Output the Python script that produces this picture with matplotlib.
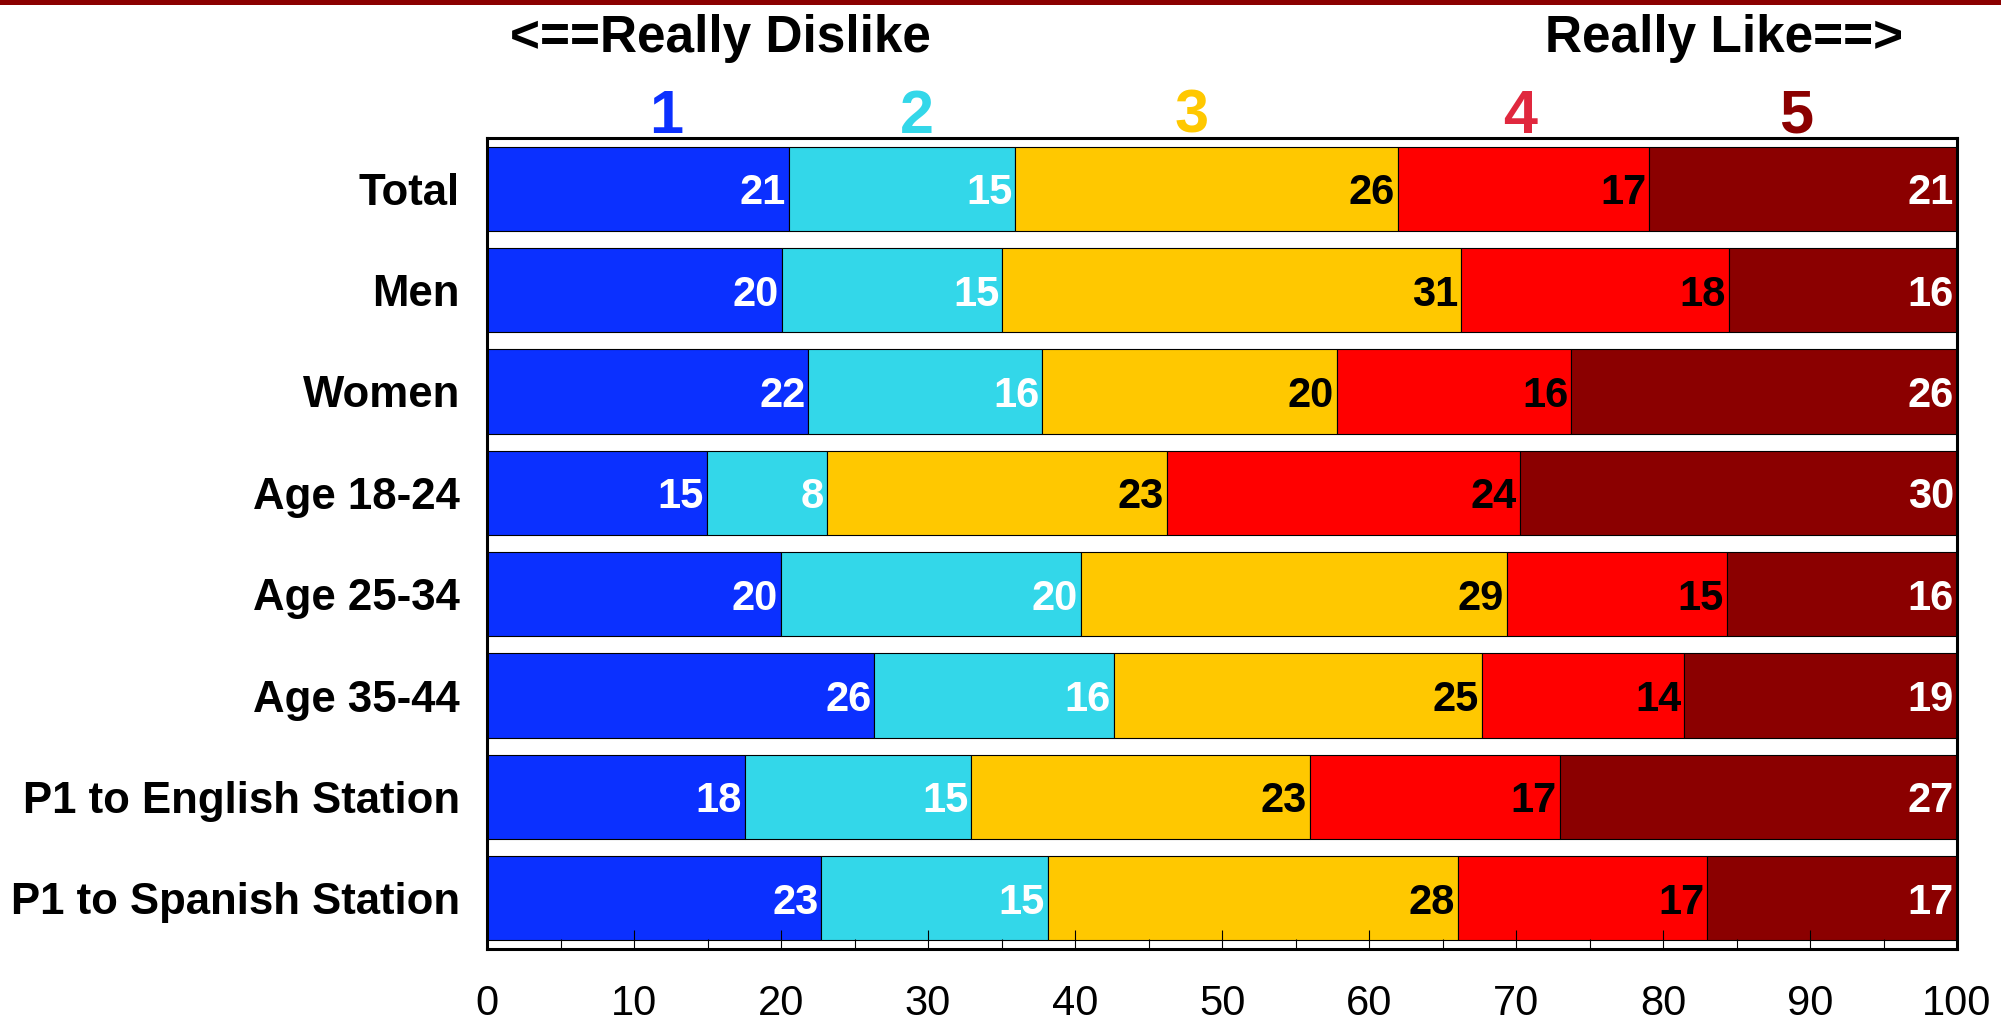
import matplotlib
matplotlib.use("Agg")
import matplotlib.pyplot as plt
from matplotlib.patches import Rectangle
import numpy as np

plt.rcParams['font.family'] = ['Liberation Sans', 'DejaVu Sans']

categories = ["Total", "Men", "Women", "Age 18-24", "Age 25-34", "Age 35-44",
              "P1 to English Station", "P1 to Spanish Station"]
score_1 = [20.55, 20.06, 21.87, 14.96, 19.99, 26.35, 17.56, 22.74]
score_2 = [15.39, 15.00, 15.90, 8.19, 20.39, 16.29, 15.39, 15.42]
score_3 = [26.03, 31.22, 20.07, 23.10, 28.99, 25.03, 23.02, 27.88]
score_4 = [17.10, 18.20, 15.91, 23.99, 14.97, 13.79, 17.02, 16.98]
score_5 = [20.93, 15.52, 26.25, 29.76, 15.66, 18.54, 27.01, 16.98]
series_names = ["1", "2", "3", "4", "5"]
xticks = [0, 10, 20, 30, 40, 50, 60, 70, 80, 90, 100]

series = [score_1, score_2, score_3, score_4, score_5]
bar_colors = ["#0B30FF", "#33D7E9", "#FFC800", "#FF0000", "#8B0000"]
head_colors = ["#0B30FF", "#33D7E9", "#FFC800", "#E0283E", "#8B0000"]
label_colors = ["white", "white", "black", "black", "white"]

fig = plt.figure(figsize=(20.01, 10.23), dpi=100)
ax = fig.add_axes([487/2001, 1-949/1023, (1957-487)/2001, (949-138)/1023])

y = np.arange(len(categories))
left = np.zeros(len(categories))
for vals, col, lc in zip(series, bar_colors, label_colors):
    vals = np.array(vals)
    ax.barh(y, vals, left=left, height=0.83, color=col, edgecolor="black",
            linewidth=0.8, zorder=1)
    for yi, (l, v) in enumerate(zip(left, vals)):
        ax.annotate(f"{v:.0f}", xy=(l + v, yi), xytext=(-3, 0),
                    textcoords="offset pixels", ha="right", va="center_baseline",
                    fontsize=30, fontweight="bold", color=lc, zorder=3)
    left = left + vals

ax.set_xlim(0, 100)
ax.set_ylim(len(categories) - 0.5, -0.5)
ax.set_yticks(y)
ax.set_yticklabels(categories, fontsize=31.5, fontweight="bold")
ax.tick_params(axis="y", length=0, pad=19.4)
ax.set_xticks(xticks)
ax.set_xticklabels([str(t) for t in xticks], fontsize=30)
ax.set_xticks([5, 15, 25, 35, 45, 55, 65, 75, 85, 95], minor=True)
ax.tick_params(axis="x", which="major", direction="in", length=13.7, width=0.8, pad=25)
ax.tick_params(axis="x", which="minor", direction="in", length=7, width=0.8)
for s in ax.spines.values():
    s.set_linewidth(2.2)
    s.set_zorder(4)

# header texts
fig.text(510/2001, 1-51.7/1023, "<==Really Dislike", ha="left", va="baseline",
         fontsize=37, fontweight="bold")
fig.text(1903/2001, 1-51.7/1023, "Really Like==>", ha="right", va="baseline",
         fontsize=37, fontweight="bold")
head_x = [666, 917, 1192, 1520, 1796]
for name, hx, hc in zip(series_names, head_x, head_colors):
    fig.text(hx/2001, 1-132.7/1023, name, ha="center", va="baseline",
             fontsize=44, fontweight="bold", color=hc)

# top dark-red line
fig.add_artist(Rectangle((0, 1-5/1023), 1, 5/1023, transform=fig.transFigure,
                         color="#8B0000", lw=0))

fig.savefig("out.png", dpi=100)
